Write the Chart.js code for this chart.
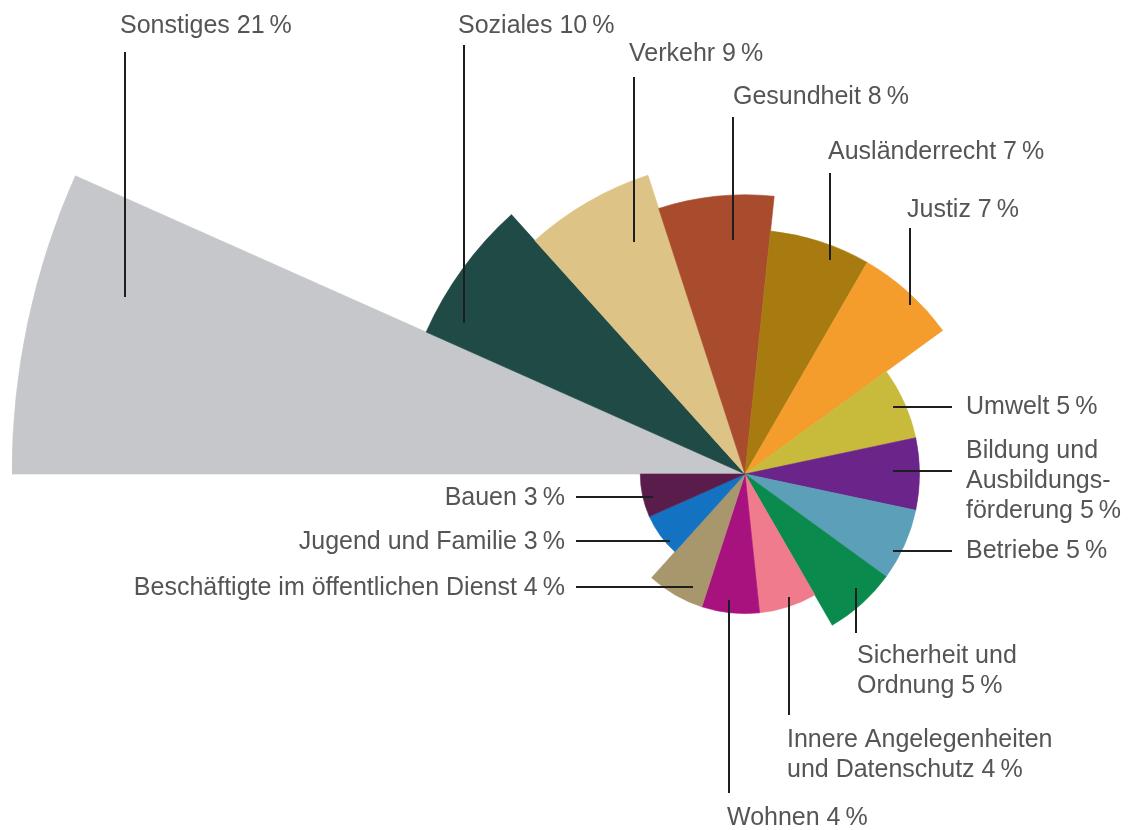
<!DOCTYPE html>
<html>
<head>
<meta charset="utf-8">
<script src="https://cdn.jsdelivr.net/npm/chart.js@4.4.1/dist/chart.umd.min.js"></script>
<style>
  html, body { margin: 0; padding: 0; background: #ffffff; overflow: hidden; }
  #wrap { position: relative; width: 1140px; height: 830px; overflow: hidden; }
  #c { position: absolute; left: 12px; top: -259px; display: block; }
</style>
</head>
<body>
<div id="wrap"><canvas id="c" width="1466" height="1466"></canvas></div>
<script>
// ---- data ----
const categories = [
  'Sonstiges', 'Soziales', 'Verkehr', 'Gesundheit', 'Ausländerrecht', 'Justiz',
  'Umwelt', 'Bildung und Ausbildungsförderung', 'Betriebe', 'Sicherheit und Ordnung',
  'Innere Angelegenheiten und Datenschutz', 'Wohnen', 'Beschäftigte im öffentlichen Dienst',
  'Jugend und Familie', 'Bauen'
];
const shares = [21, 10, 9, 8, 7, 7, 5, 5, 5, 5, 4, 4, 4, 3, 3];
const labelLines = [
  ['Sonstiges'], ['Soziales'], ['Verkehr'], ['Gesundheit'], ['Ausländerrecht'], ['Justiz'],
  ['Umwelt'], ['Bildung und', 'Ausbildungs-', 'förderung'], ['Betriebe'], ['Sicherheit und', 'Ordnung'],
  ['Innere Angelegenheiten', 'und Datenschutz'], ['Wohnen'], ['Beschäftigte im öffentlichen Dienst'],
  ['Jugend und Familie'], ['Bauen']
];
const colors = [
  '#c6c7ca', '#1f4a46', '#dec387', '#a94b2d', '#a77b10', '#f49c2c',
  '#c8ba3a', '#6b2489', '#5b9fb8', '#0b8a4d', '#f07b8d', '#a8127f',
  '#a8966c', '#1372c1', '#5a1c4b'
];

// ---- label layout (page coordinates): text anchor, alignment, leader line ----
const labelLayout = [
  { x: 120, y: 26,  align: 'left',  line: [125, 52, 125, 297] },
  { x: 458, y: 26,  align: 'left',  line: [464, 45, 464, 323] },
  { x: 629, y: 54,  align: 'left',  line: [634, 77, 634, 242] },
  { x: 733, y: 97,  align: 'left',  line: [733, 117, 733, 240] },
  { x: 828, y: 152, align: 'left',  line: [830, 173, 830, 260] },
  { x: 907, y: 210, align: 'left',  line: [910, 228, 910, 305] },
  { x: 966, y: 407, align: 'left',  line: [893, 407, 952, 407] },
  { x: 966, y: 451, align: 'left',  line: [893, 471, 952, 471] },
  { x: 966, y: 551, align: 'left',  line: [893, 551, 952, 551] },
  { x: 857, y: 656, align: 'left',  line: [856, 588, 856, 633] },
  { x: 787, y: 740, align: 'left',  line: [789, 597, 789, 715] },
  { x: 727, y: 818, align: 'left',  line: [729, 600, 729, 793] },
  { x: 565, y: 588, align: 'right', line: [576, 587, 693, 587] },
  { x: 565, y: 542, align: 'right', line: [576, 541, 670, 541] },
  { x: 565, y: 498, align: 'right', line: [576, 497, 653, 497] }
];
const pageOffset = { x: 12, y: -259 }; // canvas position on the page

const labelPlugin = {
  id: 'leaderLabels',
  afterDraw(chart) {
    const ctx = chart.ctx;
    ctx.save();
    ctx.translate(-pageOffset.x, -pageOffset.y);
    ctx.strokeStyle = '#1e1e1e';
    ctx.lineWidth = 2;
    labelLayout.forEach((l) => {
      ctx.beginPath();
      ctx.moveTo(l.line[0], l.line[1]);
      ctx.lineTo(l.line[2], l.line[3]);
      ctx.stroke();
    });
    ctx.fillStyle = '#555555';
    ctx.font = '25px "Liberation Sans", Arial, sans-serif';
    ctx.textBaseline = 'middle';
    labelLayout.forEach((l, i) => {
      const lines = labelLines[i].slice();
      lines[lines.length - 1] = lines[lines.length - 1] + ' ' + shares[i] + '\u2009%';
      ctx.textAlign = l.align;
      lines.forEach((t, k) => ctx.fillText(t, l.x, l.y + k * 30));
    });
    ctx.restore();
  }
};

// Canvas is 1466 px square so the rose centre lands at (745, 474) on the page
// and the largest value (21) reaches a radius of 733 px.
new Chart(document.getElementById('c'), {
  type: 'polarArea',
  data: {
    labels: categories,
    datasets: [{
      data: shares,
      backgroundColor: colors,
      borderColor: colors,
      borderWidth: 0.6
    }]
  },
  options: {
    responsive: false,
    animation: false,
    layout: { padding: 0 },
    plugins: { legend: { display: false }, tooltip: { enabled: false } },
    scales: {
      r: {
        display: false,
        min: 0,
        max: 21,
        startAngle: -90
      }
    }
  },
  plugins: [labelPlugin]
});
</script>
</body>
</html>
